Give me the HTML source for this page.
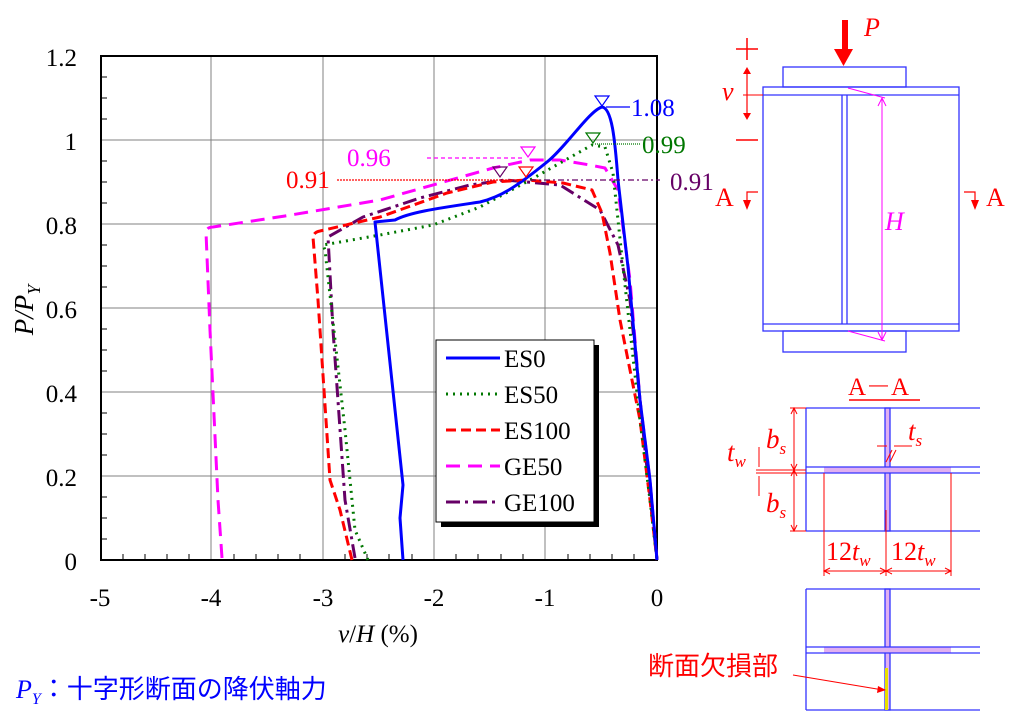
<!DOCTYPE html>
<html><head><meta charset="utf-8"><style>
body{margin:0;background:#fff;width:1024px;height:720px;overflow:hidden}
svg{display:block}
text{font-family:"Liberation Serif","Noto Serif CJK SC",serif}
</style></head><body>
<svg width="1024" height="720" viewBox="0 0 1024 720" xmlns="http://www.w3.org/2000/svg">
<g stroke="#808080" stroke-width="1">
<line x1="211" y1="56" x2="211" y2="560"/><line x1="323" y1="56" x2="323" y2="560"/>
<line x1="434" y1="56" x2="434" y2="560"/><line x1="545" y1="56" x2="545" y2="560"/>
<line x1="101" y1="140" x2="657" y2="140"/><line x1="101" y1="224" x2="657" y2="224"/>
<line x1="101" y1="308" x2="657" y2="308"/><line x1="101" y1="392" x2="657" y2="392"/>
<line x1="101" y1="476" x2="657" y2="476"/>
</g>
<rect x="101" y="56" width="556" height="504" fill="none" stroke="#000" stroke-width="2"/>
<g stroke="#000" stroke-width="1">
<path d="M101 77h6M101 98h6M101 119h6M101 161h6M101 182h6M101 203h6M101 245h6M101 266h6M101 287h6M101 329h6M101 350h6M101 371h6M101 413h6M101 434h6M101 455h6M101 497h6M101 518h6M101 539h6"/>
<path d="M123 560v-6M145 560v-6M167 560v-6M189 560v-6M234 560v-6M256 560v-6M278 560v-6M300 560v-6M345 560v-6M367 560v-6M389 560v-6M412 560v-6M456 560v-6M478 560v-6M501 560v-6M523 560v-6M568 560v-6M590 560v-6M612 560v-6M634 560v-6"/>
</g>
<g font-size="25" fill="#000" text-anchor="end">
<text x="77" y="66">1.2</text><text x="77" y="150">1</text><text x="77" y="234">0.8</text>
<text x="77" y="318">0.6</text><text x="77" y="402">0.4</text><text x="77" y="486">0.2</text><text x="77" y="570">0</text>
</g>
<g font-size="25" fill="#000" text-anchor="middle">
<text x="100" y="606">-5</text><text x="211" y="606">-4</text><text x="323" y="606">-3</text>
<text x="434" y="606">-2</text><text x="545" y="606">-1</text><text x="657" y="606">0</text>
</g>
<text x="378" y="642" font-size="25" text-anchor="middle"><tspan font-style="italic">v</tspan>/<tspan font-style="italic">H</tspan> (%)</text>
<text transform="translate(33,310) rotate(-90)" font-size="27" text-anchor="middle" font-style="italic">P/P<tspan font-size="18" dy="7">Y</tspan></text>

<g fill="none" stroke-width="3" stroke-linejoin="round">
<path stroke="#ff00ff" stroke-dasharray="14,8" d="M222 558 L218 500 L210 330 L206 232 Q207 227 213 227 L285 216 L380 200 L440 183 L493 168 L530 160 L560 160 L590 165 L605 168 L618 190 L630 280 L640 400 L650 480 L657 560"/>
<path stroke="#660066" stroke-dasharray="14,5,3,5" d="M355 558 L345 500 L333 330 L328 237 L363 217 L420 198 L470 185 L505 180 L560 185 L600 210 L618 245 L630 300 L645 450 L657 560"/>
<path stroke="#ff0000" stroke-dasharray="10,5" d="M352 560 L340 510 L330 480 L318 300 L313 237 Q314 232 320 231 L380 217 L447 193 L493 182 L527 180 L563 183 L592 190 L602 213 L610 253 L620 320 L640 420 L650 500 L657 560"/>
<path stroke="#007700" stroke-dasharray="2,5" d="M368 560 L355 530 L345 430 L325 250 L323 245 L380 235 L433 225 L480 207 L530 180 L592 145 L605 147 L613 173 L623 267 L640 420 L650 500 L657 560"/>
<path stroke="#0000ff" d="M403 560 L400 518 L403 485 L375 222 L395 220 C410 212 440 208 480 202 C500 197 515 188 547 162 C565 148 590 110 602 107 C612 108 615 140 618 180 L628 267 L640 400 L650 480 L657 560"/>
</g>
<g fill="none" stroke-width="1.2">
<path stroke="#0000ff" d="M595 96h14l-7 10z"/>
<path stroke="#007700" d="M586 133h14l-7 10z"/>
<path stroke="#ff00ff" d="M521 147h14l-7 10z"/>
<path stroke="#660066" d="M493 167h14l-7 10z"/>
<path stroke="#ff0000" d="M519 167h14l-7 10z"/>
<line stroke="#0000ff" x1="606" y1="107" x2="630" y2="107"/>
<line stroke="#007700" stroke-dasharray="1,1" x1="595" y1="144" x2="640" y2="144"/>
<line stroke="#ff00ff" stroke-dasharray="4,3" x1="427" y1="158" x2="525" y2="158"/>
<line stroke="#ff0000" stroke-dasharray="2,1" x1="337" y1="180" x2="522" y2="180"/>
<line stroke="#660066" stroke-dasharray="6,3,2,3" x1="530" y1="180" x2="660" y2="180"/>
</g>
<g font-size="25">
<text x="631" y="116" fill="#0000ff">1.08</text>
<text x="642" y="153" fill="#007700">0.99</text>
<text x="347" y="166" fill="#ff00ff">0.96</text>
<text x="286" y="188" fill="#ff0000">0.91</text>
<text x="670" y="190" fill="#660066">0.91</text>
</g>
<rect x="441" y="345" width="158" height="182" fill="#000"/>
<rect x="436" y="340" width="158" height="182" fill="#fff" stroke="#000" stroke-width="1"/>
<g fill="none" stroke-width="3">
<line x1="446" y1="358" x2="500" y2="358" stroke="#0000ff"/>
<line x1="446" y1="394" x2="500" y2="394" stroke="#007700" stroke-dasharray="2,5"/>
<line x1="446" y1="430" x2="500" y2="430" stroke="#ff0000" stroke-dasharray="10,5"/>
<line x1="446" y1="466" x2="500" y2="466" stroke="#ff00ff" stroke-dasharray="14,8"/>
<line x1="446" y1="502" x2="500" y2="502" stroke="#660066" stroke-dasharray="14,5,3,5"/>
</g>
<g font-size="25" fill="#000">
<text x="504" y="367">ES0</text><text x="504" y="403">ES50</text><text x="504" y="439">ES100</text>
<text x="504" y="475">GE50</text><text x="504" y="511">GE100</text>
</g>
<text x="16" y="698" font-size="26" fill="#0000ff" style="font-family:'Liberation Serif','Noto Sans CJK JP',sans-serif"><tspan font-style="italic">P</tspan><tspan font-size="16" dy="6" font-style="italic">Y</tspan><tspan dy="-6">：十字形断面の降伏軸力</tspan></text>

<g fill="none" stroke="#3333ff" stroke-width="1.3">
<rect x="783" y="67" width="123" height="20"/>
<rect x="763" y="87" width="196" height="244"/>
<line x1="763" y1="95" x2="959" y2="95"/>
<line x1="763" y1="324" x2="959" y2="324"/>
<line x1="842" y1="95" x2="842" y2="324"/><line x1="847" y1="95" x2="847" y2="324"/>
<rect x="783" y="331" width="123" height="21"/>
</g>
<g stroke="#ff00ff" stroke-width="1" fill="none">
<line x1="848" y1="88" x2="885" y2="98"/><line x1="848" y1="331" x2="885" y2="341"/>
<line x1="882" y1="98" x2="882" y2="340"/>
<path d="M878 106l4-8 4 8M878 332l4 8 4-8"/>
</g>
<text x="885" y="230" font-size="26" fill="#ff00ff" font-style="italic">H</text>
<g fill="#ff0000" stroke="#ff0000">
<rect x="842" y="20" width="6" height="32" stroke="none"/>
<path d="M834 49h19l-9.5 17z" stroke="none"/>
<line x1="736" y1="49" x2="758" y2="49" stroke-width="1.5"/><line x1="747" y1="38" x2="747" y2="60" stroke-width="1.5"/>
<line x1="736" y1="140" x2="758" y2="140" stroke-width="1.5"/>
<line x1="747" y1="72" x2="747" y2="115" stroke-width="1.2"/>
<path d="M743 74l4-7 4 7zM743 113l4 7 4-7z" stroke="none"/>
<line x1="743" y1="95" x2="763" y2="95" stroke-width="1"/>
<path d="M758 192h-11v10" fill="none" stroke-width="1.2"/><path d="M743 200h8l-4 10z" stroke="none"/>
<path d="M964 192h11v10" fill="none" stroke-width="1.2"/><path d="M971 200h8l-4 10z" stroke="none"/>
</g>
<g fill="#ff0000" font-size="26">
<text x="864" y="36" font-style="italic">P</text>
<text x="722" y="100" font-style="italic">v</text>
<text x="715" y="206">A</text><text x="986" y="206">A</text>
</g>

<text x="848" y="395" font-size="25" fill="#ff0000">A－A</text>
<line x1="849" y1="400" x2="920" y2="400" stroke="#ff0000" stroke-width="1.5"/>
<g stroke="#3333ff" stroke-width="1.3" fill="none">
<rect x="885" y="408" width="5" height="123" fill="#e0b0f0"/>
<rect x="824" y="467" width="127" height="6" fill="#e0b0f0" stroke="none"/>
<path d="M806 408H980M806 531H980M806 408V531M806 467H980M806 473H980"/>
<rect x="885" y="589" width="5" height="121" fill="#e0b0f0"/>
<rect x="824" y="647" width="127" height="6" fill="#e0b0f0" stroke="none"/>
<path d="M806 589H980M806 710H980M806 589V710M806 647H980M806 653H980"/>
</g>
<rect x="885" y="668" width="3" height="42" fill="#e8e000"/>
<g stroke="#ff0000" stroke-width="1" fill="none">
<path d="M794 408V531M790 408h16M790 470h16M790 531h16"/>
<path d="M791 414l3-6 3 6M791 464l3 6 3-6M791 476l3-6 3 6M791 525l3 6 3-6"/>
<path d="M756 470h50M756 473h50M759 447v20M759 476v20"/>
<path d="M824 473V576M951 473V576M886 510V576M824 571H951"/>
<path d="M830 568l-6 3 6 3M880 568l6 3-6 3M892 568l-6 3 6 3M945 568l6 3-6 3"/>
<path d="M877 446h10M894 446h18M886 462l6-12M890 462l6-12"/>
<path d="M793 675L883 690"/>
</g>
<path d="M878 686l8 4-9 3z" fill="#ff0000"/>
<g fill="#ff0000" font-size="27" font-style="italic">
<text x="766" y="448">b<tspan font-size="17" dy="6">s</tspan></text>
<text x="766" y="512">b<tspan font-size="17" dy="6">s</tspan></text>
<text x="727" y="461">t<tspan font-size="17" dy="6">w</tspan></text>
<text x="908" y="440">t<tspan font-size="17" dy="6">s</tspan></text>
</g>
<g fill="#ff0000" font-size="26">
<text x="826" y="560">12<tspan font-style="italic">t</tspan><tspan font-size="17" dy="6" font-style="italic">w</tspan></text>
<text x="891" y="560">12<tspan font-style="italic">t</tspan><tspan font-size="17" dy="6" font-style="italic">w</tspan></text>
</g>
<text x="648" y="675" font-size="26" fill="#ff0000" style="font-family:'Noto Sans CJK JP',sans-serif">断面欠損部</text>
</svg>
</body></html>
